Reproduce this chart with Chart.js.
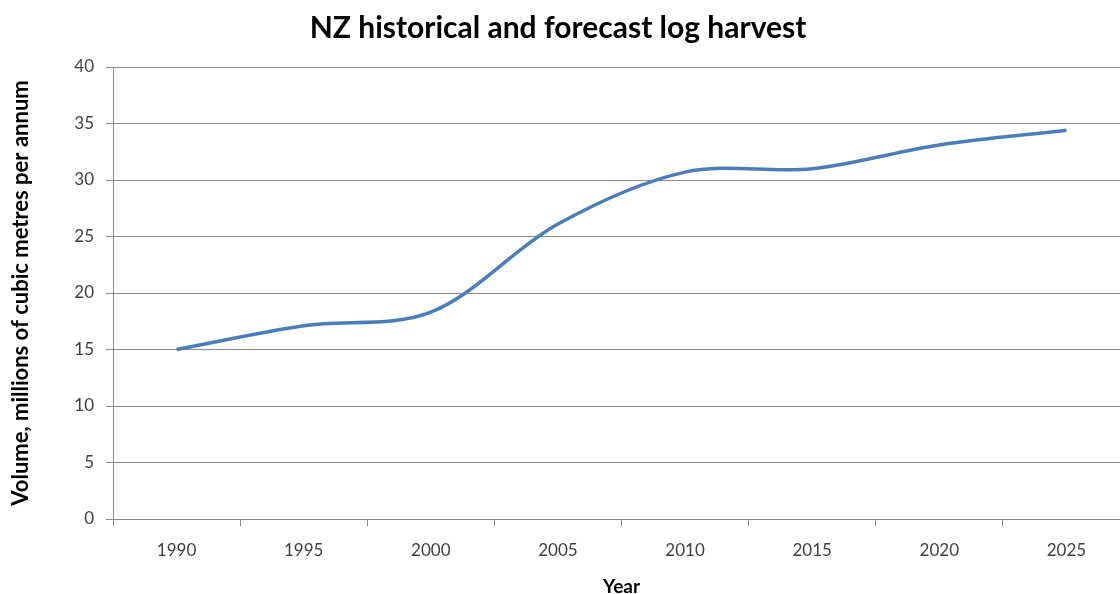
<!DOCTYPE html>
<html>
<head>
<meta charset="utf-8">
<title>NZ log harvest</title>
<script src="https://cdn.jsdelivr.net/npm/chart.js@4.4.1/dist/chart.umd.min.js"></script>
<style>
  html, body { margin: 0; padding: 0; background: #fff; overflow: hidden; }
  #wrap { width: 1120px; height: 594px; overflow: hidden; }
  canvas { display: block; }
</style>
</head>
<body>
<div id="wrap"><canvas id="chart-harvest" width="1130" height="600"></canvas></div>
<script>
/* ── data ─────────────────────────────────────────────── */
const years   = ['1990', '1995', '2000', '2005', '2010', '2015', '2020', '2025'];
const harvest = [15.0, 17.1, 18.3, 26.1, 30.7, 31.0, 33.1, 34.4];   // million m³ / yr
const yMin = 0, yMax = 40, yStep = 5;

const titleText = 'NZ historical and forecast log harvest';
const yTitle    = 'Volume, millions of cubic metres per annum';
const xTitle    = 'Year';

const FONT = 'Lato';
const AXIS = '#8a8a8a';

// title drawn by hand so it sits over the page, not the wider canvas
const chartTitle = {
  id: 'chartTitle',
  afterDraw(chart) {
    const c = chart.ctx;
    c.save();
    c.font = `bold 30px ${FONT}`;
    c.fillStyle = '#000';
    c.textAlign = 'center';
    c.textBaseline = 'middle';
    c.fillText(titleText, 558, 28);
    c.restore();
  }
};

new Chart(document.getElementById('chart-harvest'), {
  type: 'line',
  data: {
    labels: years,
    datasets: [{
      data: harvest,
      borderColor: '#4a7ebb',
      borderWidth: 3.5,
      pointRadius: 0,
      tension: 0.33,
      fill: false,
    }]
  },
  options: {
    responsive: false,
    animation: false,
    layout: { padding: { top: 67, left: 0, right: 0, bottom: 0 } },
    plugins: {
      legend: { display: false },
      tooltip: { enabled: false },
    },
    scales: {
      x: {
        type: 'category',
        offset: true,
        grid: { offset: true, drawOnChartArea: false, drawTicks: true, tickLength: 7, color: AXIS },
        border: { color: AXIS },
        ticks: { padding: 14, color: '#404040', font: { family: FONT, size: 17 } },
        title: {
          display: true, text: xTitle, color: '#000',
          font: { family: FONT, size: 19, weight: 'bold' },
          padding: { top: 0, bottom: 2 },
        },
        // canvas runs 6px below the page; keep the axis ending at y=519
        afterFit: s => { s.height = 81; },
      },
      y: {
        min: yMin, max: yMax,
        ticks: { stepSize: yStep, padding: 12, color: '#404040', font: { family: FONT, size: 17 } },
        grid: { color: AXIS, tickLength: 7 },
        border: { color: AXIS },
        title: {
          display: true, text: yTitle, color: '#000',
          font: { family: FONT, size: 22, weight: 'bold' },
          padding: { top: 8, bottom: 0 },
        },
        afterFit: s => { s.width = 113; },
      }
    }
  },
  plugins: [chartTitle]
});
</script>
</body>
</html>
